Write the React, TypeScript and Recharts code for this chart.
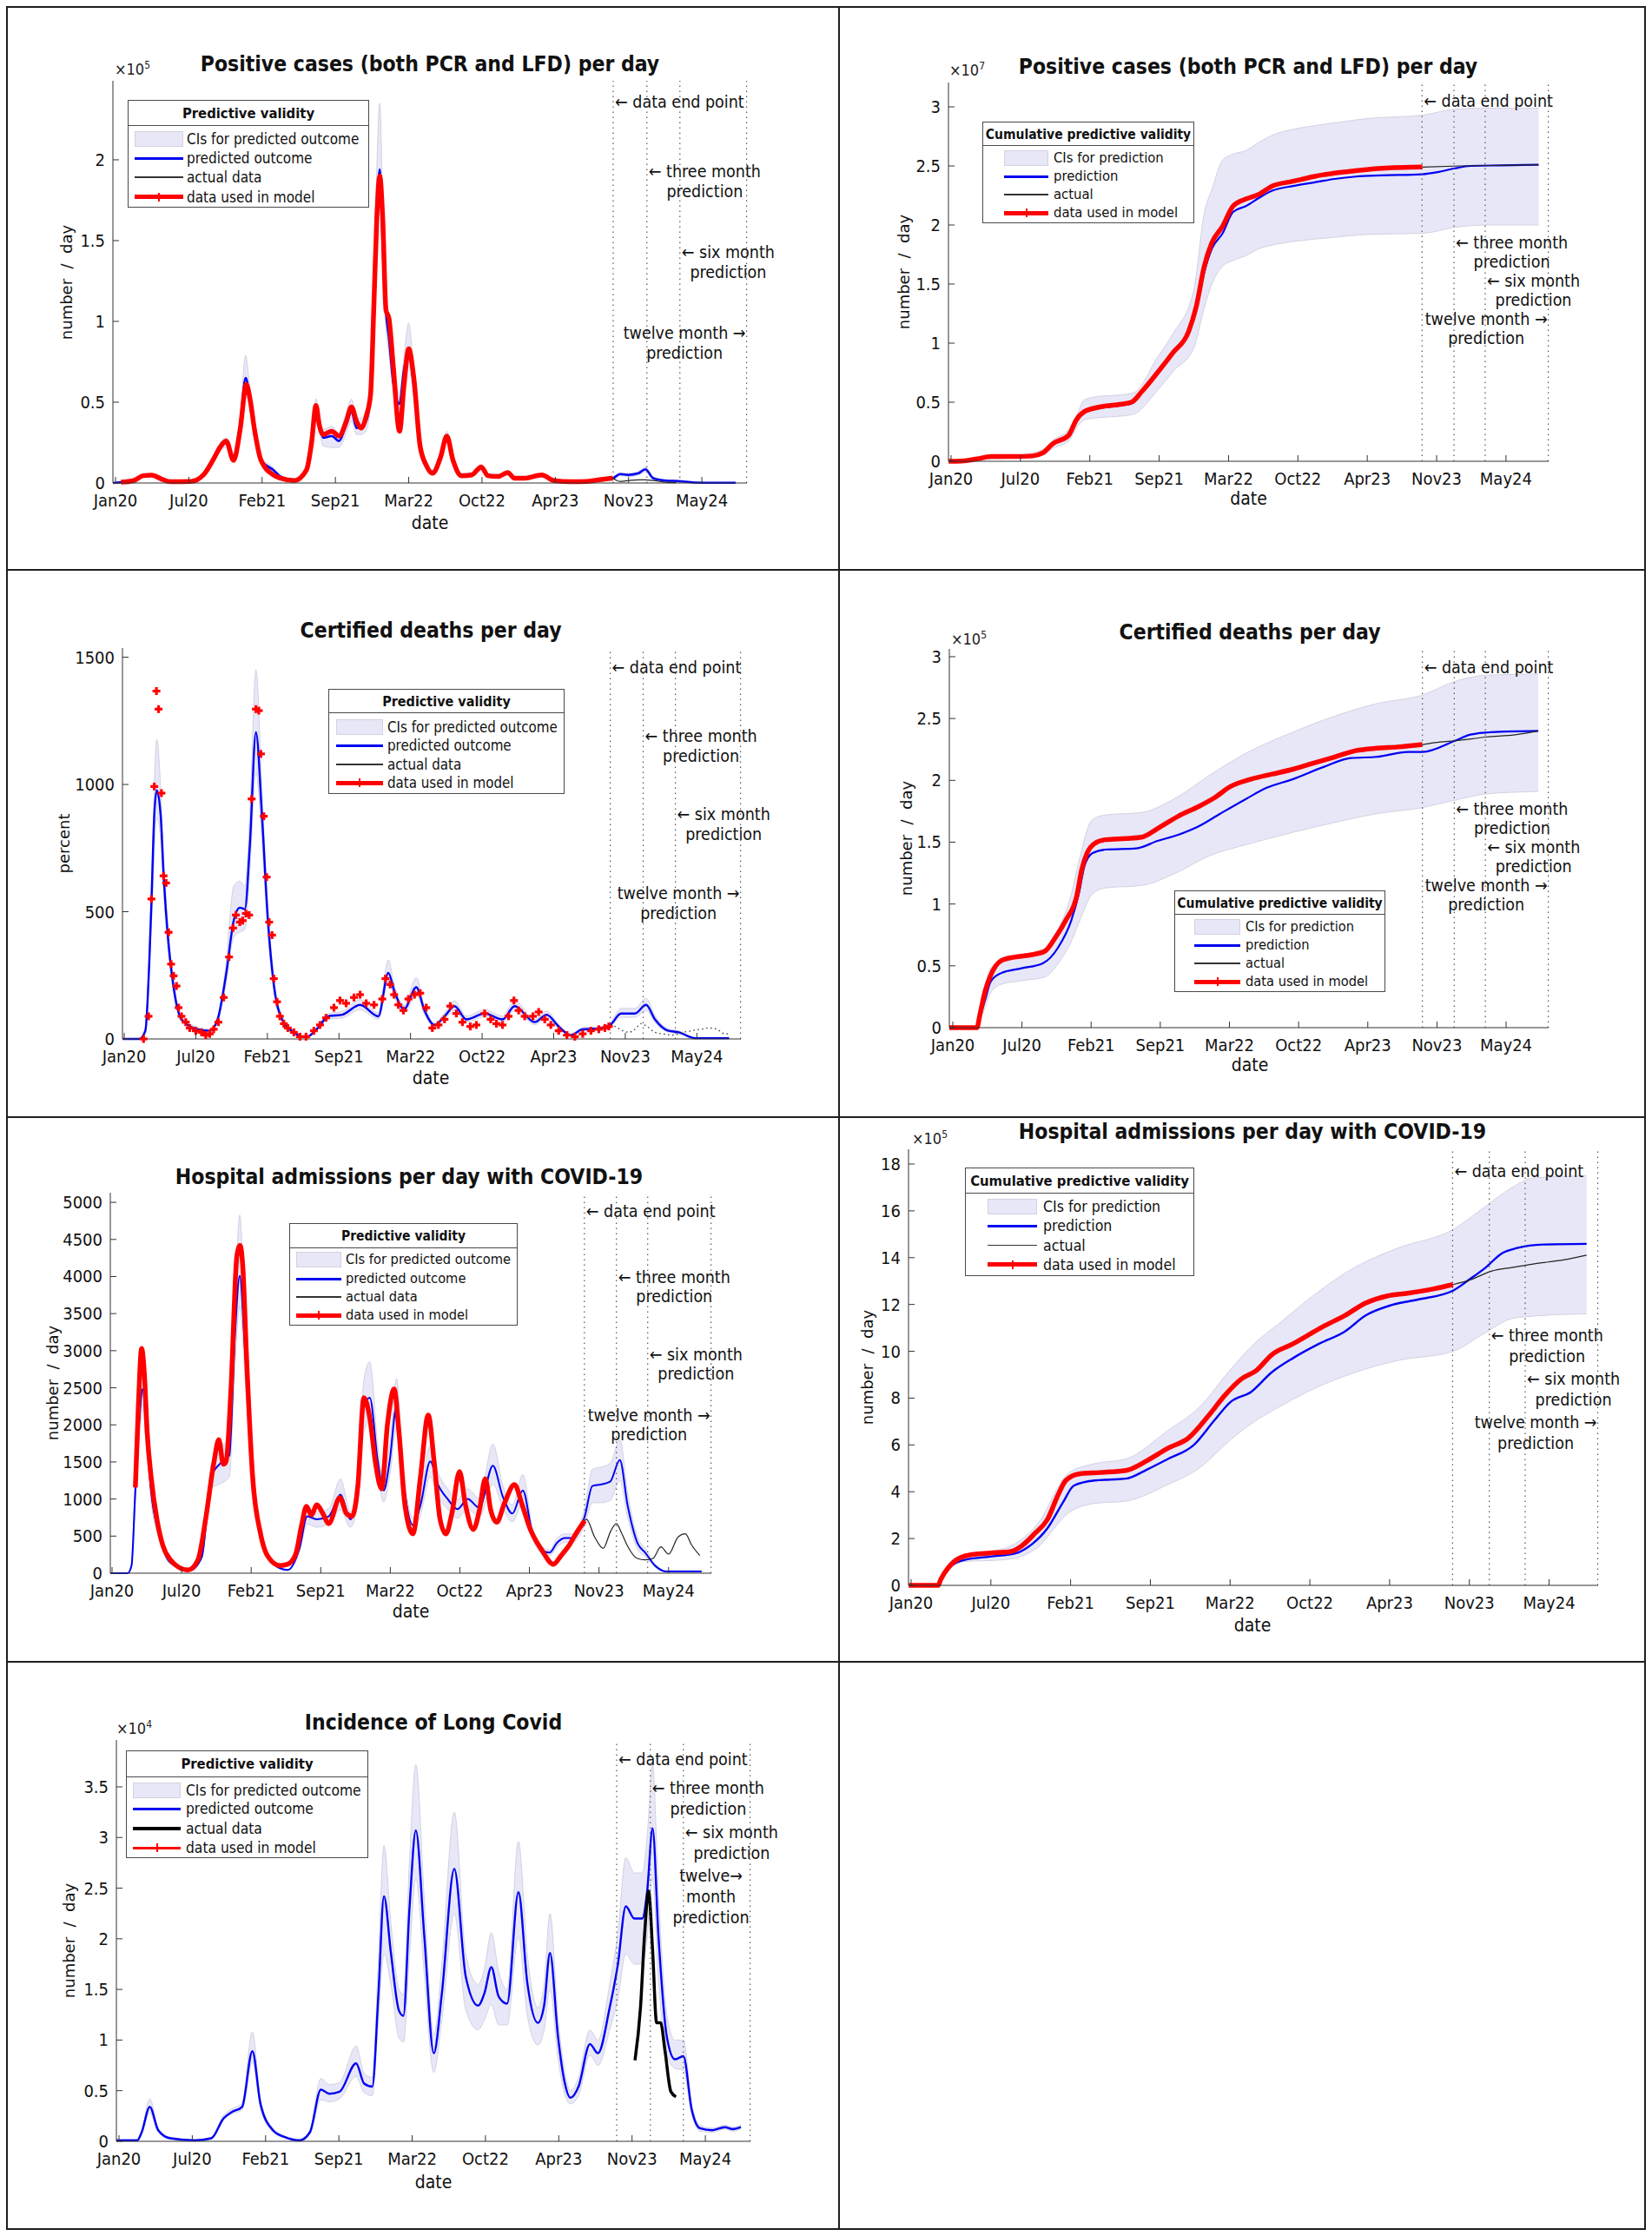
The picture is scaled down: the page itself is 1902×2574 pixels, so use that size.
import React from 'react';
import { ComposedChart, Line, Area, XAxis, YAxis, ReferenceLine } from 'recharts';

type Pt = [number, number];
type Band = [number, number, number];

const FONT = "'DejaVu Sans Condensed', 'Liberation Sans Narrow', 'Roboto Condensed', 'DejaVu Sans', sans-serif";
const FONT_WIDE = "'DejaVu Sans', Verdana, sans-serif";
const BLUE = '#0000f2';
const RED = '#ff0000';
const CI_FILL = '#e7e7f7';
const CI_EDGE = '#d2d2e2';

// x axis: days since 1 Jan 2020
const tickDays = [10, 210, 410, 610, 810, 1010, 1210, 1410, 1610];
const tickLabels = ['Jan20', 'Jul20', 'Feb21', 'Sep21', 'Mar22', 'Oct22', 'Apr23', 'Nov23', 'May24'];
const markerDays = [1368, 1460, 1550, 1732];
const X_MAX = 1733;

const annDataEnd = ['\u2190 data end point'];
const annThree = ['\u2190 three month', 'prediction'];
const annSix = ['\u2190 six month', 'prediction'];
const annTwelve = ['twelve month \u2192', 'prediction'];
const annTwelveNarrow = ['twelve\u2192', 'month', 'prediction'];

const legendDaily = ['CIs for predicted outcome', 'predicted outcome', 'actual data', 'data used in model'];
const legendCum = ['CIs for prediction', 'prediction', 'actual', 'data used in model'];

// ---------- Panel 1: positive cases per day ----------
const p1Pred: Pt[] = [[3,0],[25,500],[60,1500],[85,4500],[109,4800],[135,2500],[160,800],[216,1000],[250,5000],[278,15000],[295,22000],[312,25000],[332,15000],[350,35000],[365,65000],[375,55000],[390,32000],[407,14000],[441,8000],[460,4000],[498,1500],[531,8000],[545,25000],[557,47000],[566,38000],[576,28000],[600,29000],[620,26000],[638,35000],[654,44000],[668,34000],[680,35000],[695,39000],[706,55000],[715,110000],[723,165000],[731,194000],[739,150000],[748,106000],[756,90000],[768,62000],[785,49000],[797,70000],[810,81000],[824,60000],[841,22000],[858,10000],[875,7000],[897,17000],[914,29000],[931,14000],[954,5000],[982,5500],[1008,9000],[1026,5000],[1054,4500],[1080,6000],[1099,3000],[1127,3500],[1173,4500],[1206,1500],[1252,800],[1297,1000],[1331,2000],[1367,3000],[1387,5500],[1409,5000],[1437,6000],[1456,8500],[1477,3000],[1511,1500],[1544,1200],[1589,300],[1645,100],[1702,100]];
const p1Model: Pt[] = [[25,500],[60,1500],[85,4500],[109,4800],[135,2500],[160,800],[216,1000],[250,5000],[278,15000],[295,22000],[312,26000],[332,14000],[350,33000],[367,61000],[377,52000],[390,32000],[407,14000],[441,5000],[460,3000],[498,1500],[531,8000],[545,25000],[557,48000],[566,36000],[576,30000],[600,32000],[620,29000],[638,37000],[654,47000],[668,38000],[680,34000],[695,42000],[706,55000],[715,110000],[723,164000],[731,190000],[739,164000],[748,107000],[756,102000],[768,72000],[785,32000],[797,60000],[810,83000],[824,65000],[841,23000],[858,11000],[875,6000],[897,16000],[914,29000],[931,14000],[954,4500],[982,5000],[1008,10000],[1026,4500],[1054,4000],[1080,6500],[1099,3000],[1127,3000],[1173,5000],[1206,1500],[1252,800],[1297,1000],[1331,2000],[1367,3000]];
const p1Actual: Pt[] = [[1367,3000],[1387,1000],[1409,1500],[1437,2000],[1456,2000],[1477,1500],[1511,500],[1540,200]];
const p1Band: Band[] = [[3,0,0],[25,0,1000],[60,1000,2000],[85,3800,5200],[109,4000,5600],[135,2000,3000],[160,500,1100],[216,700,1300],[250,4000,6000],[278,13000,17000],[295,20000,25000],[312,22000,28000],[332,13000,17000],[350,30000,40000],[365,55000,79000],[375,48000,62000],[390,28000,36000],[407,12000,16000],[441,6500,9500],[460,3000,5000],[498,1000,2000],[531,6500,9500],[545,22000,28000],[557,42000,52000],[566,33000,42000],[576,23000,33000],[600,22000,35000],[620,22000,31000],[638,30000,42000],[654,38000,52000],[668,30000,40000],[680,30000,40000],[695,33000,46000],[706,50000,62000],[715,100000,130000],[723,150000,195000],[731,175000,235000],[739,135000,175000],[748,95000,118000],[756,80000,100000],[768,55000,70000],[785,42000,56000],[797,62000,78000],[810,72000,99000],[824,52000,68000],[841,19000,25000],[858,8500,11500],[875,6000,8000],[897,15000,19000],[914,26000,32000],[931,12000,16000],[954,4000,6000],[982,4500,6500],[1008,7500,10500],[1026,4000,6000],[1054,3500,5500],[1080,5000,7000],[1099,2500,3500],[1127,3000,4000],[1173,3800,5200],[1206,1000,2000],[1252,500,1100],[1297,700,1300],[1331,1500,2500],[1367,2500,3500],[1387,4500,6500],[1409,4000,6000],[1437,5000,7000],[1456,7000,10000],[1477,2300,3700],[1511,1000,2000],[1544,800,1600],[1589,100,500],[1645,0,200],[1702,0,200]];
const p1YTicks = [0, 50000, 100000, 150000, 200000];

// ---------- Panel 2: cumulative positive cases ----------
const p2Pred: Pt[] = [[3,0],[40,20000],[85,200000],[125,400000],[200,400000],[245,450000],[274,700000],[304,1450000],[349,2150000],[371,3400000],[394,4100000],[439,4500000],[492,4700000],[530,4900000],[560,5800000],[605,7400000],[650,9100000],[695,10900000],[717,12800000],[740,16000000],[762,18000000],[793,19300000],[823,21100000],[860,21600000],[898,22300000],[936,22900000],[996,23300000],[1056,23600000],[1116,23900000],[1177,24100000],[1252,24200000],[1369,24300000],[1417,24500000],[1463,24800000],[1508,25000000],[1600,25050000],[1704,25100000]];
const p2Model: Pt[] = [[3,0],[40,20000],[85,200000],[125,400000],[200,400000],[245,450000],[274,700000],[304,1500000],[349,2200000],[371,3500000],[394,4200000],[439,4600000],[492,4800000],[530,5000000],[560,5900000],[605,7500000],[650,9200000],[695,11000000],[717,13100000],[740,16500000],[762,18500000],[793,19900000],[823,21600000],[860,22200000],[898,22600000],[936,23300000],[996,23700000],[1056,24100000],[1116,24400000],[1177,24600000],[1252,24800000],[1369,24900000]];
const p2Actual: Pt[] = [[1369,24900000],[1478,25000000],[1600,25050000],[1704,25100000]];
const p2Band: Band[] = [[3,0,0],[100,150000,250000],[200,300000,500000],[274,500000,1000000],[304,1100000,1800000],[349,1700000,2700000],[371,2800000,3800000],[394,3500000,5200000],[439,3700000,5500000],[492,3800000,5600000],[537,4000000,5800000],[605,6000000,8800000],[650,7600000,10800000],[710,9600000,14500000],[740,13000000,21000000],[762,15000000,23000000],[793,16500000,25500000],[823,17000000,26000000],[860,17400000,26300000],[898,18000000,27000000],[936,18300000,27600000],[996,18600000,28100000],[1056,18800000,28400000],[1130,19000000,28700000],[1207,19200000,29000000],[1369,19300000,29300000],[1463,19800000,29800000],[1553,20000000,29900000],[1704,20000000,29900000]];
const p2YTicks = [0, 5000000, 10000000, 15000000, 20000000, 25000000, 30000000];

// ---------- Panel 3: certified deaths per day ----------
const p3Pred: Pt[] = [[6,0],[52,0],[69,32],[80,300],[86,533],[94,880],[101,977],[112,875],[120,647],[131,419],[148,203],[170,77],[215,38],[249,32],[271,77],[294,248],[316,465],[333,516],[347,510],[361,761],[378,1205],[395,875],[411,476],[428,214],[451,77],[484,26],[518,7],[551,43],[580,89],[619,95],[669,134],[720,89],[748,260],[764,191],[792,117],[826,203],[849,112],[877,55],[905,89],[933,129],[966,77],[1017,100],[1067,77],[1101,129],[1157,66],[1190,95],[1224,49],[1258,15],[1291,38],[1336,41],[1368,55],[1398,100],[1437,100],[1468,134],[1493,77],[1527,34],[1560,26],[1605,3],[1700,3]];
const p3Model: Pt[] = [[64,0],[78,89],[86,550],[94,992],[100,1367],[106,1296],[114,966],[120,641],[127,613],[134,419],[141,294],[148,248],[156,208],[162,123],[170,89],[182,66],[193,43],[210,32],[226,26],[238,15],[249,20],[260,38],[273,66],[288,163],[303,322],[314,436],[322,487],[333,459],[341,465],[350,493],[359,487],[366,943],[378,1296],[386,1290],[392,1120],[400,875],[408,636],[415,459],[423,408],[428,237],[437,146],[445,89],[456,60],[467,43],[484,26],[501,9],[518,9],[540,32],[557,55],[574,83],[596,123],[613,151],[630,140],[652,163],[669,174],[686,140],[708,134],[731,157],[740,237],[753,214],[764,174],[776,134],[790,112],[804,157],[821,174],[837,180],[854,123],[871,43],[888,55],[905,77],[921,129],[938,100],[955,66],[977,49],[994,55],[1017,100],[1034,77],[1050,60],[1067,55],[1084,89],[1099,151],[1112,112],[1129,89],[1152,89],[1168,106],[1185,77],[1202,55],[1224,32],[1247,15],[1269,9],[1291,20],[1314,32],[1336,38],[1353,43],[1364,49]];
const p3Actual: Pt[] = [[1368,55],[1381,49],[1404,32],[1420,26],[1437,38],[1454,60],[1471,49],[1493,26],[1515,20],[1543,15],[1571,26],[1594,32],[1621,38],[1643,43],[1666,38],[1688,20],[1700,20]];
const p3Band: Band[] = [[6,0,0],[52,0,0],[69,20,45],[86,450,620],[101,870,1177],[112,780,980],[120,570,720],[131,370,470],[148,180,230],[170,65,90],[215,30,46],[249,26,38],[271,65,90],[294,210,290],[316,400,600],[333,420,620],[347,430,600],[361,660,880],[378,1050,1450],[395,770,980],[411,420,530],[428,185,245],[451,65,90],[484,20,32],[518,4,10],[551,36,50],[580,78,100],[619,82,108],[669,115,155],[720,77,102],[748,225,311],[764,166,216],[792,100,134],[826,175,240],[849,96,128],[877,46,64],[905,77,102],[933,112,150],[966,66,90],[1017,87,115],[1067,66,90],[1101,112,150],[1157,56,76],[1190,82,110],[1224,42,58],[1258,11,20],[1291,32,45],[1336,35,48],[1368,47,64],[1398,85,120],[1437,85,120],[1468,112,160],[1493,64,92],[1527,28,42],[1560,20,32],[1605,1,6],[1700,1,6]];
const p3YTicks = [0, 500, 1000, 1500];

// ---------- Panel 4: cumulative certified deaths ----------
const p4Pred: Pt[] = [[0,0],[80,0],[88,8000],[104,23000],[119,37000],[149,44000],[209,48000],[270,52000],[315,65000],[353,87000],[375,109000],[390,130000],[413,141000],[451,144000],[541,145000],[602,151000],[662,156000],[722,163000],[783,173000],[858,185000],[918,194000],[994,201000],[1084,211000],[1160,218000],[1235,219000],[1326,223000],[1368,223000],[1462,232000],[1507,237000],[1567,239000],[1703,240000]];
const p4Model: Pt[] = [[0,0],[80,0],[88,10000],[104,30000],[119,42000],[149,54000],[187,57000],[239,59000],[277,62000],[307,73000],[337,87000],[368,106000],[383,128000],[398,141000],[420,149000],[451,152000],[511,153000],[556,154000],[602,161000],[662,171000],[722,179000],[767,186000],[813,195000],[873,201000],[933,205000],[994,209000],[1054,214000],[1115,219000],[1175,224000],[1235,226000],[1296,227000],[1368,229000]];
const p4Actual: Pt[] = [[1368,229000],[1420,231000],[1462,232000],[1552,235000],[1640,237000],[1703,240000]];
const p4Band: Band[] = [[0,0,0],[80,0,0],[88,5000,12000],[104,17000,35000],[119,28000,48000],[149,35000,54000],[209,38000,59000],[277,41000,63000],[315,52000,80000],[353,70000,108000],[375,85000,135000],[413,108000,168000],[451,113000,172000],[556,115000,174000],[662,126000,187000],[752,139000,204000],[858,148000,222000],[994,158000,239000],[1115,166000,252000],[1235,173000,262000],[1368,178000,269000],[1462,184000,280000],[1552,189000,285000],[1703,191000,286000]];
const p4YTicks = [0, 50000, 100000, 150000, 200000, 250000, 300000];

// ---------- Panel 5: hospital admissions per day ----------
const p5Pred: Pt[] = [[5,0],[55,0],[66,102],[77,1117],[89,2094],[98,2484],[109,1898],[122,1117],[145,531],[178,141],[235,43],[268,219],[296,1312],[319,1469],[347,1586],[364,3265],[377,4008],[392,3031],[409,1703],[431,648],[470,141],[515,43],[549,336],[571,766],[599,727],[633,766],[667,1059],[695,727],[717,1117],[734,2250],[751,2367],[774,1508],[791,1117],[808,1508],[828,2250],[846,1312],[875,648],[897,922],[925,1508],[947,1195],[975,1000],[1003,863],[1032,1000],[1066,883],[1105,1449],[1133,1039],[1161,805],[1191,1117],[1217,570],[1239,336],[1268,277],[1290,414],[1313,473],[1335,473],[1369,766],[1391,1176],[1414,1195],[1442,1234],[1470,1527],[1492,922],[1520,414],[1543,277],[1571,102],[1604,23],[1705,23]];
const p5Model: Pt[] = [[77,1156],[86,2289],[95,3031],[103,2680],[111,1898],[122,1312],[139,727],[156,375],[178,180],[201,82],[229,43],[257,180],[279,727],[302,1469],[317,1800],[330,1469],[338,1508],[352,2484],[369,4281],[378,4418],[386,4125],[397,2875],[414,1312],[437,531],[459,219],[493,102],[515,121],[538,258],[555,648],[569,902],[583,785],[599,922],[616,805],[633,668],[665,1019],[684,805],[700,766],[717,1195],[734,2367],[751,2094],[768,1469],[785,1137],[802,2016],[821,2484],[835,1898],[852,922],[875,531],[897,1312],[919,2133],[936,1508],[953,727],[970,531],[987,805],[1009,1371],[1026,922],[1049,590],[1066,844],[1083,1273],[1099,844],[1116,687],[1138,941],[1167,1195],[1189,922],[1211,609],[1245,316],[1279,121],[1301,238],[1324,375],[1346,551],[1360,648],[1369,707]];
const p5Actual: Pt[] = [[1369,707],[1374,727],[1397,492],[1422,336],[1444,570],[1460,668],[1474,551],[1491,375],[1520,199],[1543,180],[1565,199],[1588,355],[1610,258],[1638,492],[1658,531],[1677,375],[1700,238]];
const p5Band: Band[] = [[5,0,0],[55,0,0],[66,80,125],[77,950,1300],[89,1850,2350],[98,2200,2750],[109,1680,2120],[122,980,1250],[145,460,600],[178,120,165],[235,35,52],[268,190,250],[296,1150,1480],[319,1200,1700],[347,1300,1800],[364,2850,3700],[377,3600,4830],[392,2650,3400],[409,1480,1930],[431,560,740],[470,120,165],[515,35,52],[549,290,380],[571,660,870],[599,620,830],[633,660,870],[667,850,1270],[695,620,830],[717,970,1270],[734,1900,2600],[751,2050,2850],[774,1300,1720],[791,960,1270],[808,1300,1720],[828,1950,2620],[846,1130,1500],[875,550,750],[897,790,1060],[925,1300,1720],[947,1030,1360],[975,860,1140],[1003,740,990],[1032,860,1140],[1066,760,1010],[1105,1200,1740],[1133,890,1190],[1161,690,920],[1191,950,1330],[1217,490,650],[1239,290,385],[1268,240,315],[1290,355,475],[1313,420,530],[1335,420,530],[1369,650,880],[1391,950,1400],[1414,950,1430],[1442,980,1480],[1470,1250,1800],[1492,760,1090],[1520,330,500],[1543,220,335],[1571,80,125],[1604,15,32],[1705,15,32]];
const p5YTicks = [0, 500, 1000, 1500, 2000, 2500, 3000, 3500, 4000, 4500, 5000];

// ---------- Panel 6: cumulative hospital admissions ----------
const p6Pred: Pt[] = [[4,0],[78,0],[84,20000],[104,72000],[143,108000],[209,123000],[274,138000],[313,176000],[352,244000],[392,358000],[418,426000],[470,448000],[549,456000],[601,494000],[653,539000],[719,600000],[771,706000],[810,782000],[863,827000],[915,911000],[968,971000],[1033,1032000],[1098,1085000],[1150,1153000],[1216,1198000],[1281,1221000],[1369,1259000],[1412,1309000],[1451,1358000],[1491,1418000],[1530,1441000],[1596,1456000],[1704,1459000]];
const p6Model: Pt[] = [[4,0],[78,0],[84,24000],[104,77000],[130,115000],[169,133000],[209,138000],[261,145000],[287,168000],[320,221000],[352,282000],[379,388000],[398,448000],[431,476000],[483,482000],[549,491000],[601,532000],[653,585000],[706,630000],[758,729000],[797,812000],[837,880000],[876,918000],[915,986000],[968,1032000],[1007,1070000],[1046,1108000],[1098,1153000],[1150,1206000],[1203,1236000],[1255,1248000],[1321,1267000],[1369,1285000]];
const p6Actual: Pt[] = [[1369,1285000],[1412,1305000],[1465,1342000],[1517,1358000],[1570,1373000],[1648,1391000],[1704,1411000]];
const p6Band: Band[] = [[4,0,0],[78,0,0],[84,15000,30000],[130,100000,125000],[248,110000,160000],[326,160000,260000],[405,310000,480000],[470,350000,520000],[549,360000,540000],[653,430000,660000],[732,500000,760000],[810,620000,920000],[863,690000,1020000],[941,770000,1130000],[1020,840000,1240000],[1124,910000,1360000],[1229,960000,1440000],[1369,1000000,1520000],[1451,1080000,1620000],[1517,1140000,1700000],[1570,1150000,1740000],[1704,1160000,1750000]];
const p6YTicks = [0, 200000, 400000, 600000, 800000, 1000000, 1200000, 1400000, 1600000, 1800000];

// ---------- Panel 7: incidence of long covid ----------
const p7Pred: Pt[] = [[3,100],[60,100],[72,900],[94,3400],[117,1100],[150,300],[217,100],[262,300],[296,2300],[318,2900],[346,3400],[374,8900],[396,3700],[430,1100],[464,400],[503,100],[531,900],[561,5100],[584,4700],[612,4900],[657,7700],[679,5700],[701,5400],[718,14600],[733,24200],[752,18600],[774,12900],[786,12400],[803,23200],[820,30700],[843,20300],[869,8700],[891,14600],[925,26900],[956,16300],[990,13400],[1007,14600],[1026,17200],[1046,14300],[1069,13600],[1100,24600],[1124,15700],[1153,11700],[1170,13400],[1186,18600],[1208,10300],[1225,6000],[1242,4300],[1264,5400],[1295,9600],[1317,8700],[1349,13200],[1371,17400],[1393,23200],[1416,22000],[1438,22000],[1451,24600],[1466,30900],[1482,20300],[1505,10300],[1527,8100],[1550,8400],[1573,3100],[1595,1300],[1629,1100],[1663,1400],[1685,1200],[1707,1400]];
const p7Model: Pt[] = [];
const p7Actual: Pt[] = [[1418,8000],[1433,13200],[1444,20300],[1455,24700],[1466,18900],[1477,11700],[1488,11700],[1500,8900],[1516,4900],[1530,4400]];
const p7Band: Band[] = [[3,0,200],[60,0,200],[72,700,1100],[94,2800,4200],[117,900,1300],[150,200,400],[217,0,200],[262,200,400],[296,2100,2600],[318,2700,3200],[346,3100,3800],[374,7800,10800],[396,3300,4200],[430,900,1300],[464,300,500],[503,0,200],[531,700,1100],[561,4100,6200],[584,3900,5600],[612,4200,5800],[657,6400,9400],[679,4800,6700],[701,4500,6300],[718,12000,18000],[733,18500,29200],[752,15500,21500],[774,10200,15000],[786,9800,14500],[803,18500,28000],[820,26000,37200],[843,16500,24000],[869,6800,10500],[891,12000,17500],[925,22500,32500],[956,13000,18500],[990,11000,15500],[1007,12000,17000],[1026,13500,20600],[1046,11500,16800],[1069,11500,15000],[1100,20200,29600],[1124,12500,18500],[1153,9500,13200],[1170,11000,15500],[1186,15000,22500],[1208,8200,12200],[1225,4800,7200],[1242,3700,5000],[1264,4500,6300],[1295,8500,11000],[1317,7500,10000],[1349,11000,15500],[1371,14000,20500],[1393,18500,28000],[1416,17500,26500],[1438,17500,26500],[1451,20000,30000],[1466,26000,37200],[1482,16000,24500],[1505,8500,12500],[1527,7200,10000],[1550,7000,10000],[1573,2600,3600],[1595,1000,1600],[1629,900,1300],[1663,1200,1600],[1685,1000,1400],[1707,1200,1600]];
const p7YTicks = [0, 5000, 10000, 15000, 20000, 25000, 30000, 35000];

// ---------- layout / styling config ----------
interface LegendCfg { x: number; y: number; w: number; h: number; sep: number; rows: number[]; sw0: number; sw1: number; tx: number; fs: number; tfs: number; }
interface PanelCfg {
  title: string; titleX: number; titleY: number;
  x0: number; y0: number; x1: number; y1: number;
  xMin: number; yMax: number; yTicks: number[]; yScale: number;
  exp: string | null; expX: number; expY: number;
  yLabel: string; yLabelX: number; xLabelX: number; xLabelY: number;
  pred: Pt[]; band: Band[]; model: Pt[]; actual: Pt[];
  modelStyle: 'line' | 'markers'; actualStyle: 'thin' | 'dotted' | 'thick';
  predW: number;
  ann: number[]; annLh: number; twelve: string[];
  legendTitle: string; legendLabels: string[]; legend: LegendCfg;
}

const panels: PanelCfg[] = [
  {
    title: 'Positive cases (both PCR and LFD) per day', titleX: 495, titleY: 74,
    x0: 130, y0: 93, x1: 860, y1: 556, xMin: 2.9, yMax: 248900, yTicks: p1YTicks, yScale: 1e5,
    exp: '5', expX: 132, expY: 80, yLabel: 'number  /  day', yLabelX: 77, xLabelX: 495, xLabelY: 602,
    pred: p1Pred, band: p1Band, model: p1Model, actual: p1Actual, modelStyle: 'line', actualStyle: 'thin', predW: 2.6,
    ann: [24, 104, 197, 290], annLh: 23, twelve: annTwelve,
    legendTitle: 'Predictive validity', legendLabels: legendDaily,
    legend: { x: 147, y: 115, w: 278, h: 124, sep: 143.5, rows: [158.7, 181, 203, 225.6], sw0: 154, sw1: 209.5, tx: 214, fs: 17, tfs: 16.5 },
  },
  {
    title: 'Positive cases (both PCR and LFD) per day', titleX: 1437, titleY: 77,
    x0: 1092, y0: 95, x1: 1783, y1: 531, xMin: 2.5, yMax: 32060000, yTicks: p2YTicks, yScale: 1e7,
    exp: '7', expX: 1093, expY: 81, yLabel: 'number  /  day', yLabelX: 1041, xLabelX: 1437.5, xLabelY: 574,
    pred: p2Pred, band: p2Band, model: p2Model, actual: p2Actual, modelStyle: 'line', actualStyle: 'thin', predW: 2.2,
    ann: [22, 185, 229, 273], annLh: 22, twelve: annTwelve,
    legendTitle: 'Cumulative predictive validity', legendLabels: legendCum,
    legend: { x: 1131, y: 140, w: 244, h: 117, sep: 167, rows: [181, 202.4, 223, 244], sw0: 1155, sw1: 1206, tx: 1212, fs: 16.5, tfs: 15.5 },
  },
  {
    title: 'Certified deaths per day', titleX: 496, titleY: 726,
    x0: 141, y0: 746, x1: 853, y1: 1196, xMin: 5.1, yMax: 1536, yTicks: p3YTicks, yScale: 1,
    exp: null, expX: 0, expY: 0, yLabel: 'percent', yLabelX: 73.5, xLabelX: 496, xLabelY: 1241,
    pred: p3Pred, band: p3Band, model: p3Model, actual: p3Actual, modelStyle: 'markers', actualStyle: 'dotted', predW: 2.4,
    ann: [22, 101, 191, 282], annLh: 23, twelve: annTwelve,
    legendTitle: 'Predictive validity', legendLabels: legendDaily,
    legend: { x: 378, y: 793, w: 272, h: 121, sep: 820, rows: [835.7, 857.3, 879, 900], sw0: 386, sw1: 440, tx: 445, fs: 16.8, tfs: 16 },
  },
  {
    title: 'Certified deaths per day', titleX: 1439, titleY: 728,
    x0: 1093, y0: 747, x1: 1783, y1: 1183, xMin: 0, yMax: 306300, yTicks: p4YTicks, yScale: 1e5,
    exp: '5', expX: 1095, expY: 736, yLabel: 'number  /  day', yLabelX: 1044, xLabelX: 1439, xLabelY: 1226,
    pred: p4Pred, band: p4Band, model: p4Model, actual: p4Actual, modelStyle: 'line', actualStyle: 'thin', predW: 2.2,
    ann: [22, 185, 229, 273], annLh: 22, twelve: annTwelve,
    legendTitle: 'Cumulative predictive validity', legendLabels: legendCum,
    legend: { x: 1352, y: 1025, w: 243, h: 117, sep: 1052, rows: [1066, 1087, 1108, 1129], sw0: 1374, sw1: 1427, tx: 1433, fs: 16.3, tfs: 15.5 },
  },
  {
    title: 'Hospital admissions per day with COVID-19', titleX: 471, titleY: 1355,
    x0: 127, y0: 1373, x1: 819, y1: 1811, xMin: 5, yMax: 5130, yTicks: p5YTicks, yScale: 1,
    exp: null, expX: 0, expY: 0, yLabel: 'number  /  day', yLabelX: 61, xLabelX: 473, xLabelY: 1855,
    pred: p5Pred, band: p5Band, model: p5Model, actual: p5Actual, modelStyle: 'line', actualStyle: 'thin', predW: 2,
    ann: [22, 98, 187, 257], annLh: 22, twelve: annTwelve,
    legendTitle: 'Predictive validity', legendLabels: legendDaily,
    legend: { x: 333, y: 1408, w: 263, h: 118, sep: 1435.5, rows: [1449, 1471, 1492, 1513], sw0: 340, sw1: 392, tx: 397, fs: 16.3, tfs: 15.5 },
  },
  {
    title: 'Hospital admissions per day with COVID-19', titleX: 1442, titleY: 1303,
    x0: 1046, y0: 1323, x1: 1840, y1: 1825, xMin: 3.5, yMax: 1863000, yTicks: p6YTicks, yScale: 1e5,
    exp: '5', expX: 1050, expY: 1311, yLabel: 'number  /  day', yLabelX: 999, xLabelX: 1442, xLabelY: 1871,
    pred: p6Pred, band: p6Band, model: p6Model, actual: p6Actual, modelStyle: 'line', actualStyle: 'thin', predW: 2.4,
    ann: [26, 215, 265, 315], annLh: 24, twelve: annTwelve,
    legendTitle: 'Cumulative predictive validity', legendLabels: legendCum,
    legend: { x: 1111, y: 1344, w: 264, h: 125, sep: 1373, rows: [1388, 1410, 1432.6, 1454.7], sw0: 1136, sw1: 1193, tx: 1200, fs: 17.6, tfs: 16.5 },
  },
  {
    title: 'Incidence of Long Covid', titleX: 499, titleY: 1983,
    x0: 134, y0: 2003, x1: 864, y1: 2465, xMin: 2.9, yMax: 39630, yTicks: p7YTicks, yScale: 1e4,
    exp: '4', expX: 134, expY: 1990, yLabel: 'number  /  day', yLabelX: 80, xLabelX: 499, xLabelY: 2512,
    pred: p7Pred, band: p7Band, model: p7Model, actual: p7Actual, modelStyle: 'line', actualStyle: 'thick', predW: 2.4,
    ann: [23, 55.5, 107, 157], annLh: 24, twelve: annTwelveNarrow,
    legendTitle: 'Predictive validity', legendLabels: legendDaily,
    legend: { x: 145, y: 2015, w: 279, h: 124, sep: 2044.5, rows: [2059.5, 2081.4, 2103.8, 2126], sw0: 152, sw1: 207, tx: 213, fs: 17.3, tfs: 16.5 },
  },
];

const fmtTick = (v: number) => String(Math.round(v * 100) / 100);

const XTick = (props: any) => {
  const { x, y, payload } = props;
  const i = tickDays.indexOf(payload.value);
  return (
    <g>
      <line x1={x} x2={x} y1={y} y2={y - 7} stroke="#333" strokeWidth={1} />
      <text x={x} y={y + 20} textAnchor="middle" dominantBaseline="central" fontFamily={FONT} fontSize={20} fill="#111">
        {tickLabels[i]}
      </text>
    </g>
  );
};

const YTick = (props: any) => {
  const { x, y, payload, scale } = props;
  return (
    <g>
      <line x1={x} x2={x + 7} y1={y} y2={y} stroke="#333" strokeWidth={1} />
      <text x={x - 9} y={y} textAnchor="end" dominantBaseline="central" fontFamily={FONT} fontSize={20} fill="#111">
        {fmtTick(payload.value / scale)}
      </text>
    </g>
  );
};

const Cross = (props: any) => {
  const { cx, cy } = props;
  if (cx == null || cy == null) return null;
  return (
    <g>
      <line x1={cx - 4.5} x2={cx + 4.5} y1={cy} y2={cy} stroke={RED} strokeWidth={3.2} />
      <line x1={cx} x2={cx} y1={cy - 4.5} y2={cy + 4.5} stroke={RED} strokeWidth={3.2} />
    </g>
  );
};

const Ann = ({ viewBox, lines, side, off, lh }: any) => {
  if (!viewBox) return null;
  const { x, y } = viewBox;
  const W = 240;
  const fx = side === 'left' ? x + 2 : x - W - 1;
  return (
    <foreignObject x={fx} y={y + off - lh / 2} width={W} height={lh * lines.length + 6}>
      <div style={{ display: 'flex', justifyContent: side === 'left' ? 'flex-start' : 'flex-end' }}>
        <div style={{ textAlign: 'center', fontFamily: FONT, fontSize: 19.5, lineHeight: `${lh}px`, color: '#111', whiteSpace: 'nowrap' }}>
          {lines.map((l: string, i: number) => <div key={i}>{l}</div>)}
        </div>
      </div>
    </foreignObject>
  );
};

const LegendBox = ({ c }: { c: PanelCfg }) => {
  const L = c.legend;
  const swW = L.sw1 - L.sw0;
  const thickActual = c.actualStyle === 'thick';
  return (
    <div style={{ position: 'absolute', left: L.x, top: L.y, width: L.w, height: L.h, border: '1.5px solid #4a4a4a', background: '#fff', boxSizing: 'border-box' }}>
      <div style={{ position: 'absolute', left: 0, right: 0, top: 0, height: L.sep - L.y, display: 'flex', alignItems: 'center', justifyContent: 'center', fontFamily: FONT, fontWeight: 'bold', fontSize: L.tfs, color: '#111' }}>
        {c.legendTitle}
      </div>
      <div style={{ position: 'absolute', left: 0, right: 0, top: L.sep - L.y - 1, borderTop: '1.5px solid #4a4a4a' }} />
      {L.rows.map((ry, i) => {
        const top = ry - L.y;
        const left = L.sw0 - L.x;
        let sw: React.ReactNode = null;
        if (i === 0) sw = <div style={{ position: 'absolute', left, top: top - 9, width: swW, height: 18, background: CI_FILL, border: `1px solid ${CI_EDGE}`, boxSizing: 'border-box' }} />;
        if (i === 1) sw = <div style={{ position: 'absolute', left, top: top - 1.5, width: swW, height: 3, background: BLUE }} />;
        if (i === 2) sw = <div style={{ position: 'absolute', left, top: top - (thickActual ? 2 : 0.6), width: swW, height: thickActual ? 4 : 1.2, background: thickActual ? '#000' : '#333' }} />;
        if (i === 3) sw = (
          <>
            <div style={{ position: 'absolute', left, top: top - (thickActual ? 1.5 : 2.5), width: swW, height: thickActual ? 3 : 5, background: RED }} />
            <div style={{ position: 'absolute', left: left + swW / 2 - 1, top: top - 5, width: 2, height: 10, background: RED }} />
          </>
        );
        return (
          <React.Fragment key={i}>
            {sw}
            <div style={{ position: 'absolute', left: L.tx - L.x, top: top - 12, height: 24, lineHeight: '24px', fontFamily: FONT, fontSize: L.fs, color: '#111', whiteSpace: 'nowrap' }}>
              {c.legendLabels[i]}
            </div>
          </React.Fragment>
        );
      })}
    </div>
  );
};

const YW = 70, MT = 20, MR = 50, XH = 40;

const Panel = ({ c }: { c: PanelCfg }) => {
  const w = c.x1 - c.x0 + YW + MR;
  const h = c.y1 - c.y0 + MT + XH;
  const predRows = c.pred.map(([d, v]) => ({ d, v }));
  const bandRows = c.band.map(([d, lo, hi]) => ({ d, r: [lo, hi] }));
  const modelRows = c.model.map(([d, v]) => ({ d, v }));
  const actualRows = c.actual.map(([d, v]) => ({ d, v }));
  const annSpecs = [
    { lines: annDataEnd, side: 'left' },
    { lines: annThree, side: 'left' },
    { lines: annSix, side: 'left' },
    { lines: c.twelve, side: 'right' },
  ];
  const actualProps =
    c.actualStyle === 'thick' ? { stroke: '#000', strokeWidth: 3.5 } :
    c.actualStyle === 'dotted' ? { stroke: '#333', strokeWidth: 1.3, strokeDasharray: '1.5 3.5' } :
    { stroke: '#222', strokeWidth: 1.2 };
  return (
    <>
      <div style={{ position: 'absolute', left: c.x0 - YW, top: c.y0 - MT }}>
        <ComposedChart width={w} height={h} margin={{ top: MT, right: MR, bottom: 0, left: 0 }}>
          <XAxis dataKey="d" type="number" domain={[c.xMin, X_MAX]} ticks={tickDays} interval={0}
            tickSize={0} tickMargin={0} tickLine={false} axisLine={{ stroke: '#333', strokeWidth: 1 }} tick={<XTick />} height={XH} />
          <YAxis type="number" domain={[0, c.yMax]} ticks={c.yTicks} interval={0}
            tickSize={0} tickMargin={0} tickLine={false} axisLine={{ stroke: '#333', strokeWidth: 1 }} tick={<YTick scale={c.yScale} />} width={YW} />
          <Area data={bandRows} dataKey="r" type="monotone" fill={CI_FILL} fillOpacity={1} stroke={CI_EDGE} strokeWidth={1} isAnimationActive={false} />
          <Line data={predRows} dataKey="v" type="monotone" stroke={BLUE} strokeWidth={c.predW} dot={false} isAnimationActive={false} />
          {c.actual.length > 0 && (
            <Line data={actualRows} dataKey="v" type="monotone" {...actualProps} dot={false} isAnimationActive={false} />
          )}
          {c.model.length > 0 && c.modelStyle === 'line' && (
            <Line data={modelRows} dataKey="v" type="monotone" stroke={RED} strokeWidth={5.5} dot={false} isAnimationActive={false} />
          )}
          {c.model.length > 0 && c.modelStyle === 'markers' && (
            <Line data={modelRows} dataKey="v" type="monotone" stroke="none" dot={<Cross />} isAnimationActive={false} />
          )}
          {markerDays.map((d, i) => (
            <ReferenceLine key={i} x={d} stroke="#555" strokeWidth={1.2} strokeDasharray="1.5 4.5"
              label={(p: any) => <Ann viewBox={p.viewBox} lines={annSpecs[i].lines} side={annSpecs[i].side} off={c.ann[i]} lh={c.annLh} />} />
          ))}
        </ComposedChart>
      </div>
      <div style={{ position: 'absolute', left: c.titleX - 400, width: 800, top: c.titleY - 16, height: 32, lineHeight: '32px', textAlign: 'center', fontFamily: FONT, fontWeight: 'bold', fontSize: 24.5, color: '#111' }}>
        {c.title}
      </div>
      <div style={{ position: 'absolute', left: c.xLabelX - 100, width: 200, top: c.xLabelY - 14, height: 28, lineHeight: '28px', textAlign: 'center', fontFamily: FONT, fontSize: 21, color: '#111' }}>
        date
      </div>
      <div style={{ position: 'absolute', left: c.yLabelX - 150, top: (c.y0 + c.y1) / 2 - 14, width: 300, height: 28, lineHeight: '28px', textAlign: 'center', transform: 'rotate(-90deg)', fontFamily: FONT_WIDE, fontSize: 18, color: '#111', whiteSpace: 'pre' }}>
        {c.yLabel}
      </div>
      {c.exp && (
        <div style={{ position: 'absolute', left: c.expX, top: c.expY - 12, height: 24, lineHeight: '24px', fontFamily: FONT, fontSize: 18, color: '#222', whiteSpace: 'nowrap' }}>
          {'\u00d710'}<sup style={{ fontSize: 12, verticalAlign: 'top', position: 'relative', top: -5 }}>{c.exp}</sup>
        </div>
      )}
      <LegendBox c={c} />
    </>
  );
};

const gridV = [8, 966, 1894];
const gridH = [8, 656, 1286, 1913, 2566];

export default function App() {
  return (
    <div style={{ position: 'absolute', left: 0, top: 0, width: 1902, height: 2574, background: '#fff', overflow: 'hidden' }}>
      {gridV.map((x, i) => (
        <div key={'v' + i} style={{ position: 'absolute', left: x - 1, top: 7, width: 2, height: 2560, background: '#1e1e1e' }} />
      ))}
      {gridH.map((y, i) => (
        <div key={'h' + i} style={{ position: 'absolute', left: 7, top: y - 1, width: 1888, height: 2, background: '#1e1e1e' }} />
      ))}
      {panels.map((c, i) => <Panel key={i} c={c} />)}
    </div>
  );
}
